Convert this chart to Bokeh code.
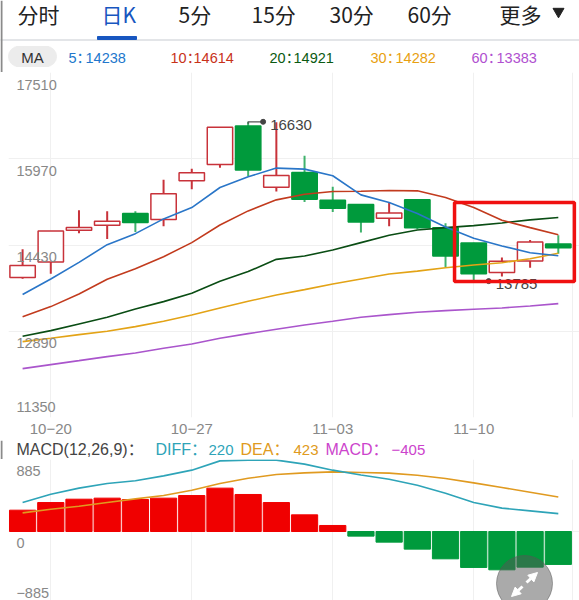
from bokeh.plotting import figure
from bokeh.layouts import column
from bokeh.models import Range1d, FixedTicker, BoxAnnotation, Arrow, NormalHead
from bokeh.core.properties import value
from bokeh.embed import file_html
from bokeh.resources import INLINE

# ---- data ----
dates = ["10−20", "10−27", "11−03", "11−10"]
date_idx = [1, 6, 11, 16]
opens  = [13851,14126,14693,14783,14991,14884,15576,15869,16555,15463,15725,15230,15152,14908,15236,14740,14466,13941,14144,14448]
closes = [14066,14681,14741,14854,14830,15344,15720,16531,15767,15672,15248,15087,14842,15003,14740,14233,13917,14138,14484,14382]
highs  = [14353,14681,15051,15033,15033,15594,15791,16531,16630,16620,16024,15469,15158,15188,15242,14818,14472,14209,14520,14603]
lows   = [13827,13917,14639,14538,14663,14765,15427,15809,15660,15385,15200,15021,14651,14764,14711,14036,13785,13869,14024,14275]
ma5  = [13547,13822,14120,14436,14633,14896,15099,15457,15648,15803,15785,15666,15325,15188,14991,14752,14549,14412,14293,14238]
ma10 = [13151,13330,13556,13818,14007,14221,14472,14788,15039,15236,15337,15385,15391,15403,15397,15278,15099,14872,14740,14614]
ma20 = [12800,12901,13020,13139,13288,13419,13568,13782,13955,14174,14233,14340,14472,14603,14699,14740,14776,14824,14878,14921]
ma30 = [12705,12764,12830,12889,12973,13068,13181,13306,13425,13538,13633,13735,13824,13913,13964,14024,14072,14114,14185,14282]
ma60 = [12222,12294,12365,12437,12502,12586,12663,12764,12847,12925,13002,13068,13139,13187,13229,13258,13282,13306,13342,13383]
price_ticks = [17510, 15970, 14430, 12890, 11350]
macd = [262,356,397,410,393,410,442,533,455,356,205,74,-57,-131,-217,-336,-442,-471,-438,-405]
diff = [356,459,533,590,623,684,754,868,877,877,828,754,694,643,569,471,356,287,254,220]
dea  = [229,274,311,356,401,442,508,590,655,700,721,733,725,717,692,651,598,541,483,423]
macd_ticks = [885, 0, -885]
tabs = ["分时", "日K", "5分", "15分", "30分", "60分", "更多"]
tab_left = [17, 101, 178, 251, 329, 407, 499]
ma_names = ["5：", "10：", "20：", "30：", "60："]
ma_values = ["14238", "14614", "14921", "14282", "13383"]
ma_left = [68, 170, 269, 370, 471]
ma_value_left = [85, 193, 293, 395, 496]
ma_colors = ["#2277cc", "#c8321a", "#0b5a12", "#e8a010", "#b050d0"]

SANS = value("Liberation Sans, Noto Sans CJK SC")
CJK = value("Noto Sans CJK SC")
RED, GREEN = "#c8323a", "#009a3c"
idx = list(range(20))
W = 579
XR = (W - 22) / 28.2

def base(height, x_range, y_range, strip_left=0, **kw):
    p = figure(width=W, height=height, x_range=x_range, y_range=y_range,
               output_backend="svg", toolbar_location=None, tools="",
               min_border=0, min_border_left=0, min_border_right=0,
               min_border_top=0, min_border_bottom=0, frame_align=False, **kw)
    p.background_fill_color = "white"
    p.border_fill_color = "white"
    p.add_layout(BoxAnnotation(left=strip_left, right=strip_left + 2, top=0, bottom=height,
                               left_units="screen", right_units="screen",
                               top_units="screen", bottom_units="screen",
                               fill_color="#8a8a8a", fill_alpha=1, line_alpha=0))
    return p

def blank(p):
    p.xaxis.visible = False
    p.yaxis.visible = False
    p.xgrid.visible = False
    p.ygrid.visible = False
    p.outline_line_color = None

# ---- header ----
h = base(72, Range1d(0, W), Range1d(72, 0))
blank(h)
for t, x in zip(tabs, tab_left):
    h.text([x], [13.5], text=[t], text_font=CJK, text_font_size="21px", text_baseline="middle",
           text_color="#1756c0" if t == "日K" else "#222222")
h.scatter([558], [11], marker="inverted_triangle", size=11, color="#222222")
h.quad(left=[0], right=[W], top=[39], bottom=[40], color="#e3e5e8")
h.quad(left=[97], right=[136], top=[36], bottom=[39], color="#1756c0")
h.quad(left=[16], right=[48], top=[46], bottom=[66], color="#ececec")
h.scatter([18, 46], [56, 56], size=20, color="#ececec")
h.text([32], [57], text=["MA"], text_font=SANS, text_font_size="15px", text_align="center",
       text_baseline="middle", text_color="#333333")
for n, v, x, xv, c in zip(ma_names, ma_values, ma_left, ma_value_left, ma_colors):
    h.text([x], [57], text=[n], text_font=SANS, text_font_size="14.5px", text_baseline="middle", text_color=c)
    h.text([xv], [57], text=[v], text_font=SANS, text_font_size="14.5px", text_baseline="middle", text_color=c)

# ---- price panel ----
def py(px): return 17510 - (px - 72) * 6160 / 345

p = base(368, Range1d(-0.5, XR), Range1d(11350, 17510), strip_left=-8)
p.min_border_left = 8
p.min_border_bottom = 23
p.outline_line_color = None
p.yaxis.visible = False
p.ygrid.ticker = FixedTicker(ticks=price_ticks)
p.ygrid.bounds = (-0.5, 19.5)
p.xgrid.ticker = FixedTicker(ticks=[-0.5] + date_idx + [19.5])
p.xgrid.grid_line_color = "#f0f0f0"
p.ygrid.grid_line_color = "#f0f0f0"
p.xaxis.ticker = FixedTicker(ticks=date_idx)
p.xaxis.major_label_overrides = dict(zip(date_idx, dates))
p.xaxis.major_tick_line_color = None
p.xaxis.minor_tick_line_color = None
p.xaxis.axis_line_color = None
p.xaxis.major_label_standoff = 0
p.xaxis.major_label_text_color = "#888888"
p.xaxis.major_label_text_font = "Liberation Sans"
p.xaxis.major_label_text_font_size = "15px"

for i in idx:
    up = closes[i] >= opens[i]
    c = RED if up else GREEN
    p.segment([i], [highs[i]], [i], [lows[i]], line_color=c, line_width=2, line_alpha=1 if up else .75)
    p.quad(left=[i - 0.45], right=[i + 0.45], top=[max(opens[i], closes[i])], bottom=[min(opens[i], closes[i])],
           fill_color="white" if up else GREEN, line_color=c, line_width=1.5)

for s, c in zip([ma60, ma30, ma20, ma10, ma5], ["#aa55cc", "#e3a316", "#0a4d14", "#c23b1e", "#2a76c8"]):
    p.line(idx, s, line_color=c, line_width=1.6)

for v in price_ticks:
    p.text([-0.22], [v], text=[str(v)], text_font=SANS, text_font_size="14.5px", text_color="#888888",
           text_baseline="middle", y_offset=-11 if v == price_ticks[-1] else 12)

hi = max(highs); hi_i = highs.index(hi)
lo = min(lows); lo_i = lows.index(lo)
p.line([hi_i, hi_i, hi_i + 0.53], [hi - 40, hi, hi], line_color="#555555", line_width=1.2)
p.scatter([hi_i + 0.53], [hi], size=5, color="#444444")
p.text([hi_i + 0.78], [hi], text=[str(hi)], text_font=SANS, text_font_size="15px", text_color="#444444",
       text_baseline="middle", y_offset=3)
p.scatter([lo_i + 0.53], [lo], size=5, color="#444444")
p.text([lo_i + 0.78], [lo], text=[str(lo)], text_font=SANS, text_font_size="15px", text_color="#444444",
       text_baseline="middle", y_offset=3)

p.add_layout(BoxAnnotation(left=15.32, right=19.57, top=py(202), bottom=py(281), fill_alpha=0,
                           line_color="#f01010", line_width=3.5, line_alpha=1))

# ---- MACD title ----
m_t = base(19, Range1d(0, W), Range1d(19, 0))
blank(m_t)
title_parts = [("MACD(12,26,9)：", 16, "#444444", 16), ("DIFF：", 155, "#2ea4b8", 16), ("220", 208, "#2ea4b8", 15),
               ("DEA：", 240, "#e09a20", 16), ("423", 293, "#e09a20", 15),
               ("MACD：", 325, "#cc44cc", 16), ("−405", 391, "#cc44cc", 15)]
for t, x, c, s in title_parts:
    m_t.text([x], [9], text=[t], text_font=SANS, text_font_size=f"{s}px", text_baseline="middle", text_color=c)

# ---- MACD panel ----
def xp(px): return (px - 22) / 28.2
def yp(px): return (72 - px) * 885 / 72

m = base(141, Range1d(-0.5, XR), Range1d(yp(141), 885), strip_left=-8)
m.min_border_left = 8
m.outline_line_color = None
m.xaxis.visible = False
m.yaxis.visible = False
m.ygrid.ticker = FixedTicker(ticks=macd_ticks)
m.ygrid.bounds = (-0.5, 19.5)
m.xgrid.ticker = FixedTicker(ticks=[-0.5] + date_idx + [19.5])
m.xgrid.grid_line_color = "#f0f0f0"
m.ygrid.grid_line_color = "#f0f0f0"
m.vbar(x=idx, width=0.93, top=macd, bottom=0, color=["#f00000" if v >= 0 else GREEN for v in macd])
m.line(idx, dea, line_color="#e09a20", line_width=1.6)
m.line(idx, diff, line_color="#2ea4b8", line_width=1.6)
for v in macd_ticks[:2]:
    m.text([-0.22], [v], text=[str(v)], text_font=SANS, text_font_size="14.5px", text_color="#888888",
           text_baseline="middle", y_offset=11)
m.text([-0.22], [macd_ticks[2]], text=["−885"], text_font=SANS, text_font_size="14.5px", text_color="#888888",
       text_baseline="middle", y_offset=-11)
m.scatter([xp(524)], [yp(124)], size=56, color="#555555", alpha=0.5)
for a, b, c, d in [(526, 123, 537, 113), (522, 127, 511, 137)]:
    m.add_layout(Arrow(end=NormalHead(size=9, fill_color="white", line_color="white"),
                       x_start=xp(a), y_start=yp(b), x_end=xp(c), y_end=yp(d),
                       line_color="white", line_width=3))

page = column(h, p, m_t, m, spacing=0, styles={"position": "absolute", "top": "0px", "left": "0px"})
open("out.html", "w").write(file_html(page, INLINE))
